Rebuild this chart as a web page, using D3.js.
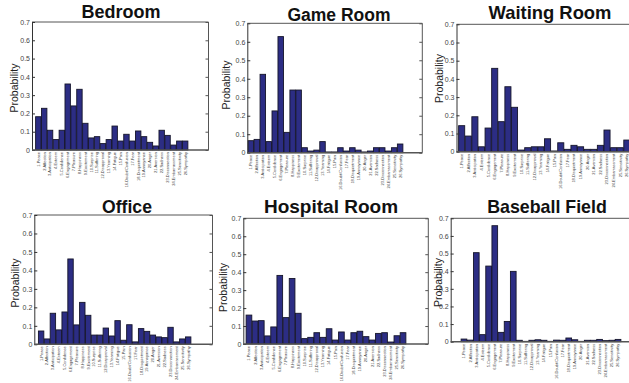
<!DOCTYPE html>
<html>
<head>
<meta charset="utf-8">
<script src="https://cdn.jsdelivr.net/npm/d3@7"></script>
<style>
  html, body { margin: 0; padding: 0; background: #fff; overflow: hidden; }
  svg { display: block; font-family: "Liberation Sans", Arial, Helvetica, sans-serif; }
</style>
</head>
<body>
<svg id="chart" width="629" height="383"></svg>
<script>
// Emotion categories shared by every scene panel
const emotions = [
  "1.Peace", "2.Affection", "3.Anticipation", "4.Esteem", "5.Confidence",
  "6.Engagement", "7.Pleasure", "8.Happiness", "9.Excitement", "10.Surprise",
  "11.Suffering", "12.Disapproval", "13.Yearning", "14.Fatigue", "15.Pain",
  "16.Doubt/Confusion", "17.Fear", "18.Disquietment", "19.Annoyance", "20.Anger",
  "21.Aversion", "22.Sadness", "23.Disconnection", "24.Embarrassment",
  "25.Sensitivity", "26.Sympathy"
];

// Probability of each emotion per scene
const bedroom = [0.182, 0.228, 0.108, 0.057, 0.108, 0.361, 0.241, 0.332, 0.146, 0.066,
  0.073, 0.035, 0.057, 0.131, 0.049, 0.086, 0.049, 0.104, 0.073, 0.042,
  0.022, 0.108, 0.080, 0.027, 0.049, 0.049];
const gameRoom = [0.065, 0.072, 0.424, 0.060, 0.226, 0.628, 0.110, 0.339, 0.339, 0.027,
  0.009, 0.014, 0.060, 0.004, 0.004, 0.027, 0.009, 0.027, 0.014, 0.004,
  0.009, 0.027, 0.027, 0.009, 0.027, 0.047];
const waitingRoom = [0.143, 0.086, 0.192, 0.027, 0.130, 0.458, 0.165, 0.357, 0.244, 0.009,
  0.022, 0.027, 0.027, 0.071, 0.004, 0.049, 0.013, 0.035, 0.027, 0.013,
  0.013, 0.035, 0.119, 0.022, 0.022, 0.064];
const office = [0.072, 0.029, 0.168, 0.078, 0.175, 0.462, 0.105, 0.227, 0.157, 0.050,
  0.050, 0.088, 0.045, 0.128, 0.022, 0.106, 0.013, 0.085, 0.070, 0.050,
  0.040, 0.036, 0.092, 0.013, 0.029, 0.040];
const hospitalRoom = [0.161, 0.128, 0.130, 0.045, 0.095, 0.382, 0.147, 0.365, 0.171, 0.030,
  0.037, 0.063, 0.037, 0.085, 0.022, 0.067, 0.022, 0.063, 0.071, 0.041,
  0.022, 0.059, 0.063, 0.011, 0.046, 0.063];
const baseballField = [0.015, 0.009, 0.505, 0.040, 0.429, 0.658, 0.053, 0.115, 0.399, 0.008,
  0.002, 0.008, 0.011, 0.008, 0.002, 0.009, 0.008, 0.021, 0.011, 0.002,
  0.008, 0.008, 0.013, 0.006, 0.008, 0.013];

const titles = ["Bedroom", "Game Room", "Waiting Room", "Office", "Hospital Room", "Baseball Field"];
const series = [bedroom, gameRoom, waitingRoom, office, hospitalRoom, baseballField];
const yTicks = [0, 0.1, 0.2, 0.3, 0.4, 0.5, 0.6, 0.7];

// Panel frames: axes box, bar extent, title and y-label placement
const frames = [
  { left: 32,    right: 208.5, top: 22,    bottom: 150,   b0: 35.5,  b1: 188,  tx: 121, ty: 18,  ts: 18, lx: 13.5, ly: 88 },
  { left: 247.3, right: 422.3, top: 23.3,  bottom: 152.7, b0: 248,   b1: 403,  tx: 339, ty: 21,  ts: 17.5, lx: 225.5, ly: 85 },
  { left: 456.5, right: 640,   top: 24.3,  bottom: 151.7, b0: 458.5, b1: 630,  tx: 550, ty: 19,  ts: 18.4, lx: 438.5, ly: 78.5 },
  { left: 34.3,  right: 212.5, top: 215,   bottom: 344.3, b0: 38.3,  b1: 191,  tx: 127, ty: 213, ts: 17.6, lx: 15,   ly: 283 },
  { left: 243.3, right: 428.3, top: 218.3, bottom: 344,   b0: 246,   b1: 406,  tx: 331, ty: 213, ts: 19, lx: 223,  ly: 287.5 },
  { left: 450.7, right: 640,   top: 218.3, bottom: 341.7, b0: 461,   b1: 621,  tx: 547, ty: 213, ts: 17.8, lx: 438,  ly: 282.5 }
];

const svg = d3.select("#chart");

series.forEach((values, i) => {
  const f = frames[i];
  const g = svg.append("g");

  const x = d3.scaleBand().domain(emotions).range([f.b0, f.b1]).paddingInner(0.08).paddingOuter(0.02);
  const y = d3.scaleLinear().domain([0, 0.7]).range([f.bottom, f.top]);

  // bars
  g.selectAll("rect.bar")
    .data(values)
    .join("rect")
    .attr("class", "bar")
    .attr("x", (d, k) => x(emotions[k]))
    .attr("y", d => y(d))
    .attr("width", x.bandwidth())
    .attr("height", d => y(0) - y(d))
    .attr("fill", "#2c2d84")
    .attr("stroke", "#15152a")
    .attr("stroke-width", 0.9);

  // box: top and right edges
  g.append("line")
    .attr("x1", f.left).attr("x2", f.right)
    .attr("y1", f.top).attr("y2", f.top)
    .attr("stroke", "#555").attr("stroke-width", 1);
  g.append("line")
    .attr("x1", f.right).attr("x2", f.right)
    .attr("y1", f.top).attr("y2", f.bottom)
    .attr("stroke", "#555").attr("stroke-width", 1);

  // left axis with inward ticks
  const yAxis = g.append("g")
    .attr("transform", `translate(${f.left},0)`)
    .call(d3.axisLeft(y).tickValues(yTicks).tickSizeInner(-3).tickSizeOuter(0).tickPadding(2)
      .tickFormat(d => d === 0 ? "0" : d3.format(".1f")(d)));
  yAxis.select(".domain").attr("stroke", "#333").attr("stroke-width", 1);
  yAxis.selectAll(".tick line").attr("stroke", "#333");
  yAxis.selectAll(".tick text")
    .attr("fill", "#444")
    .style("font-size", "7px")
    .style("font-family", "'Liberation Sans', Arial, sans-serif");

  // right axis ticks, inward
  const yRight = g.append("g")
    .attr("transform", `translate(${f.right},0)`)
    .call(d3.axisRight(y).tickValues(yTicks).tickSizeInner(-3).tickSizeOuter(0).tickFormat(""));
  yRight.select(".domain").remove();
  yRight.selectAll(".tick line").attr("stroke", "#555");

  // bottom axis with rotated emotion labels
  const xAxis = g.append("g")
    .attr("transform", `translate(0,${f.bottom})`)
    .call(d3.axisBottom(x).tickSize(0).tickPadding(0));
  xAxis.select(".domain").remove();
  xAxis.selectAll(".tick text")
    .attr("transform", "rotate(-90)")
    .attr("text-anchor", "end")
    .attr("x", -2)
    .attr("y", 0)
    .attr("dy", "0.35em")
    .attr("fill", "#444")
    .style("font-size", "4px")
    .style("font-family", "'Liberation Sans', Arial, sans-serif");

  // baseline
  g.append("line")
    .attr("x1", f.left).attr("x2", f.right)
    .attr("y1", y(0)).attr("y2", y(0))
    .attr("stroke", "#555").attr("stroke-width", 1.4);

  // y label
  g.append("text")
    .attr("transform", `translate(${f.lx},${f.ly}) rotate(-90)`)
    .attr("text-anchor", "middle")
    .attr("dominant-baseline", "central")
    .attr("fill", "#222")
    .style("font-size", "10.5px")
    .text("Probability");

  // title
  g.append("text")
    .attr("x", f.tx)
    .attr("y", f.ty)
    .attr("text-anchor", "middle")
    .attr("fill", "#111")
    .style("font-size", f.ts + "px")
    .style("font-weight", "bold")
    .text(titles[i]);
});
</script>
</body>
</html>
